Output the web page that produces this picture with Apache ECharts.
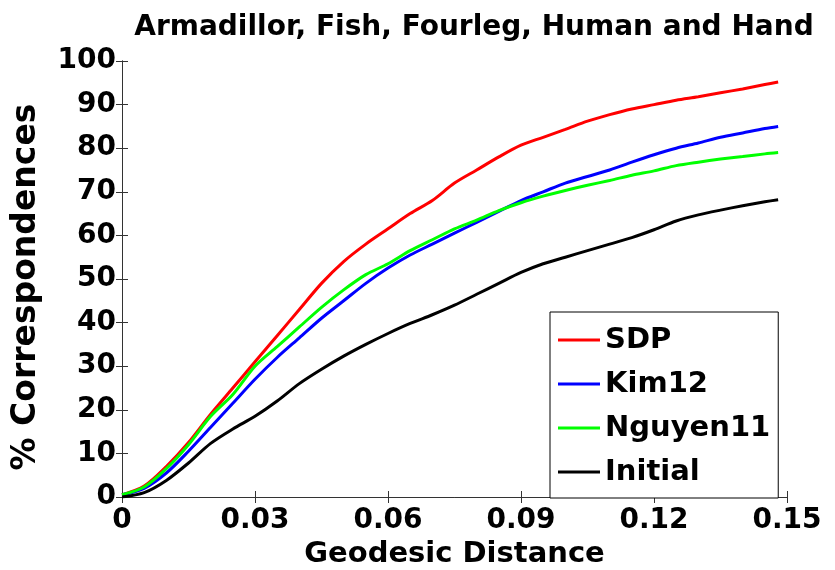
<!DOCTYPE html>
<html>
<head>
<meta charset="utf-8">
<script src="https://cdn.jsdelivr.net/npm/echarts@6/dist/echarts.min.js"></script>
<style>
  body { margin: 0; background: #fff; }
  #chart { width: 835px; height: 570px; }
</style>
</head>
<body>
<div id="chart"></div>
<script>
// geodesic distance samples
const xs = [0, 0.005, 0.01, 0.015, 0.02, 0.025, 0.03, 0.035, 0.04, 0.045, 0.05, 0.055, 0.06, 0.065, 0.07, 0.075,
  0.08, 0.085, 0.09, 0.095, 0.1, 0.105, 0.11, 0.115, 0.12, 0.125, 0.13, 0.135, 0.14, 0.145, 0.148]
const sdp = [0.5, 2.5, 7, 12.5, 19, 25, 31, 37, 43, 49, 54, 58, 61.5, 65, 68, 72, 75, 78, 80.7, 82.5,
  84.3, 86.2, 87.7, 89, 90, 91, 91.8, 92.7, 93.6, 94.6, 95.2]
const kim12 = [0.5, 2, 5.5, 10.5, 16, 21.5, 27, 32, 36.5, 41, 45, 49, 52.5, 55.5, 58, 60.5, 63, 65.5, 68, 70,
  72, 73.5, 75, 76.8, 78.5, 80, 81.2, 82.5, 83.5, 84.5, 85]
const nguyen11 = [0.5, 2.3, 6.5, 12, 18.5, 23.5, 30, 34.5, 39, 43.5, 47.5, 51, 53.5, 56.5, 59, 61.5, 63.5, 65.7, 67.5, 69,
  70.3, 71.5, 72.6, 73.8, 74.8, 76, 76.8, 77.5, 78.1, 78.7, 79]
const initial = [0, 1, 3.8, 7.8, 12.3, 15.6, 18.5, 22, 26, 29.3, 32.3, 35, 37.5, 39.8, 41.8, 44, 46.5, 49, 51.5, 53.5,
  55, 56.5, 58, 59.5, 61.3, 63.3, 64.7, 65.8, 66.8, 67.7, 68.2]
const xTicks = ['0', '0.03', '0.06', '0.09', '0.12', '0.15']

const chart = echarts.init(document.getElementById('chart'))
const font = 'DejaVu Sans'

function pairs(ys) {
  let out = []
  for (let i = 0; i < xs.length; i++) out.push([xs[i], ys[i]])
  return out
}

function mkSeries(name, ys, color) {
  return {
    name: name,
    type: 'line',
    data: pairs(ys),
    showSymbol: false,
    smooth: 0.3,
    lineStyle: { color: color, width: 3 },
    itemStyle: { color: color },
    z: 3
  }
}

const tickStyle = { show: true, inside: true, length: 6, lineStyle: { color: '#333', width: 1 } }

let option = {
  backgroundColor: '#fff',
  animation: false,
  title: {
    text: 'Armadillor, Fish, Fourleg, Human and Hand',
    left: 469,
    top: 9,
    textAlign: 'center',
    textStyle: { fontFamily: font, fontWeight: 'bold', fontSize: 28, color: '#000' }
  },
  grid: { left: 122, top: 61, width: 665, height: 436, outerBoundsMode: 'none' },
  legend: {
    orient: 'vertical',
    left: 550,
    top: 312,
    width: 232,
    height: 179,
    padding: [12, 8, 10, 8],
    itemGap: 12,
    itemWidth: 42,
    itemHeight: 3,
    icon: 'rect',
    backgroundColor: '#fff',
    borderColor: '#000',
    borderWidth: 1,
    borderRadius: 0,
    textStyle: { fontFamily: font, fontWeight: 'bold', fontSize: 29, color: '#000', padding: [0, 0, 0, 0], lineHeight: 32 },
    data: ['SDP', 'Kim12', 'Nguyen11', 'Initial']
  },
  xAxis: [
    {
      type: 'value',
      min: 0,
      max: 0.15,
      interval: 0.03,
      name: 'Geodesic Distance',
      nameLocation: 'middle',
      nameGap: 43,
      nameTextStyle: { fontFamily: font, fontWeight: 'bold', fontSize: 29, color: '#000' },
      axisLine: { show: true, lineStyle: { color: '#333', width: 1 } },
      axisTick: tickStyle,
      splitLine: { show: false },
      axisLabel: {
        fontFamily: font, fontWeight: 'bold', fontSize: 28, color: '#000', margin: 10,
        formatter: function (v) { return xTicks[Math.round(v / 0.03)] }
      }
    },
    {
      type: 'value',
      position: 'top',
      min: 0,
      max: 0.15,
      interval: 0.03,
      axisLine: { show: true, lineStyle: { color: '#333', width: 1 } },
      axisTick: tickStyle,
      axisLabel: { show: false },
      splitLine: { show: false }
    }
  ],
  yAxis: [
    {
      type: 'value',
      min: 0,
      max: 100,
      interval: 10,
      name: '% Correspondences',
      nameLocation: 'middle',
      nameGap: 79,
      nameTextStyle: { fontFamily: font, fontWeight: 'bold', fontSize: 33, color: '#000', padding: [0, 16, 0, 0] },
      axisLine: { show: true, lineStyle: { color: '#333', width: 1 } },
      axisTick: tickStyle,
      splitLine: { show: false },
      axisLabel: { fontFamily: font, fontWeight: 'bold', fontSize: 28, color: '#000', margin: 6 }
    },
    {
      type: 'value',
      position: 'right',
      min: 0,
      max: 100,
      interval: 10,
      axisLine: { show: true, lineStyle: { color: '#333', width: 1 } },
      axisTick: tickStyle,
      axisLabel: { show: false },
      splitLine: { show: false }
    }
  ],
  series: [
    mkSeries('SDP', sdp, '#ff0000'),
    mkSeries('Kim12', kim12, '#0000ff'),
    mkSeries('Nguyen11', nguyen11, '#00ff00'),
    mkSeries('Initial', initial, '#000000')
  ]
}
chart.setOption(option)
</script>
</body>
</html>
